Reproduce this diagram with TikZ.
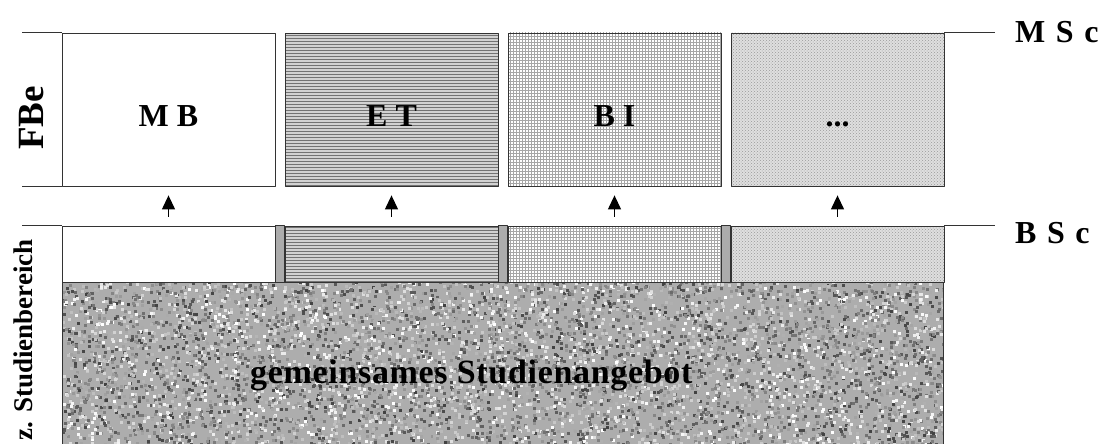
\documentclass[tikz,border=0pt]{standalone}
\usepackage{fontspec}
\setmainfont{Liberation Serif}
\usetikzlibrary{arrows.meta,patterns}

\begin{document}
\begin{tikzpicture}[x=1pt, y=-1pt, line join=round]
 \tikzset{
  box/.style={draw=black!80, line width=0.8pt, minimum width=213pt, minimum height=153pt, inner sep=0pt, text height=34pt, text depth=0pt, font=\fontsize{32}{38}\selectfont\bfseries},
  band/.style={draw=black!80, line width=0.8pt, minimum width=213pt, minimum height=56pt, inner sep=0pt},
  etpat/.style={preaction={fill=gray!35}, pattern=horizontal lines, pattern color=black!55},
  bipat/.style={pattern=grid, pattern color=black!35},
  etcpat/.style={preaction={fill=gray!25}, pattern=crosshatch dots, pattern color=black!40},
  strip/.style={draw=black!80, line width=0.8pt, fill=gray!65},
  rule/.style={draw=black!80, line width=0.8pt},
  up/.style={-{Triangle[length=14pt,width=13pt]}, line width=1.2pt, shorten >=9pt, shorten <=9pt},
  lvl/.style={font=\fontsize{32}{38}\selectfont\bfseries\addfontfeature{LetterSpace=8}, inner sep=0pt, anchor=base west}
 }
 \useasboundingbox (0,0) rectangle (1111,444);
 % common base block (granite)
 \begin{scope}
  \clip (62,282) rectangle (943,444);
  \fill[black!32] (62,282) rectangle (943,444);
  \pgfmathsetseed{11}
  \foreach \i in {1,...,7000}{
   \pgfmathsetmacro\gx{62+881*rnd}
   \pgfmathsetmacro\gy{280+166*rnd}
   \pgfmathtruncatemacro\gs{75*rnd}
   \fill[black!\gs] (\gx,\gy) rectangle +(3,3);
  }
 \end{scope}
 \draw[rule] (62,445) -- (62,282) -- (943,282) -- (943,445);
 % master level
 \node[box] (mb) at (168.5,109.5) {M B};
 \node[box, etpat] (et) at (391.5,109.5) {E T};
 \node[box, bipat] (bi) at (614.5,109.5) {B I};
 \node[box, etcpat] (etc) at (837.5,109.5) {...};
 % bachelor level
 \node[band] (mb-b) at (168.5,254) {};
 \node[band, etpat] (et-b) at (391.5,254) {};
 \node[band, bipat] (bi-b) at (614.5,254) {};
 \node[band, etcpat] (etc-b) at (837.5,254) {};
 \draw[strip] (mb-b.north east) rectangle (et-b.south west);
 \draw[strip] (et-b.north east) rectangle (bi-b.south west);
 \draw[strip] (bi-b.north east) rectangle (etc-b.south west);
 \draw[rule] (mb.north west) -- +(-40,0);
 \draw[rule] (mb.south west) -- +(-40,0);
 \draw[rule] (mb-b.north west) -- +(-40,0);
 \draw[rule] (etc.north east) -- +(51,0);
 \draw[rule] (etc-b.north east) -- +(51,0);
 \foreach \n in {mb,et,bi,etc} \draw[up] (\n-b.north) -- (\n.south);
 % labels
 \node[lvl] (msc) at (1015,43) {M S c};
 \node[lvl] (bsc) at (1015,243) {B S c};
 \node[rotate=90, inner sep=0pt, font=\fontsize{37}{44}\selectfont\bfseries] (fbe) at (32,118) {FBe};
 \node[rotate=90, inner sep=0pt, font=\fontsize{27}{32}\selectfont\bfseries] (szb) at (23,340) {z. Studienbereich};
 \node[anchor=base west, inner sep=0pt, font=\fontsize{34}{40}\selectfont\bfseries\addfontfeature{LetterSpace=2}] (gsa) at (250,383) {gemeinsames Studienangebot};
\end{tikzpicture}
\end{document}
